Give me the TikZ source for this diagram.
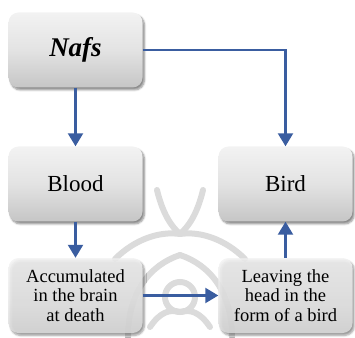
\documentclass[tikz,border=0pt]{standalone}
\usepackage{fontspec}
\setmainfont{Liberation Serif}
\usetikzlibrary{arrows.meta,shadows.blur,positioning}
\definecolor{arrowblue}{HTML}{3A5DA0}
\tikzset{
  box/.style={rounded corners=10pt, minimum width=134pt, minimum height=75pt,
    top color=gray!10, bottom color=gray!45, middle color=gray!22, draw=none,
    blur shadow={shadow xshift=2pt, shadow yshift=-2.5pt, shadow blur steps=6, shadow opacity=45},
    align=center, inner sep=2pt},
  lowbox/.style={box, top color=gray!10, bottom color=gray!28, middle color=gray!16, fill opacity=0.85, text opacity=1},
  conn/.style={draw=arrowblue, line width=2.3pt, -{Triangle[width=15pt,length=13pt]}},
  small/.style={font=\fontsize{18.5}{19.5}\selectfont},
  big/.style={font=\fontsize{23}{24}\selectfont},
  orn/.style={draw=gray!28, line width=6pt, line cap=round}
}
\begin{document}
\begin{tikzpicture}[x=1pt,y=1pt]
\useasboundingbox (0,0) rectangle (355,337);
% faint background ornament
\draw[orn] (157,147) .. controls (163,122) and (172,110) .. (180,103);
\draw[orn] (203,147) .. controls (197,122) and (188,110) .. (180,103);
\draw[orn] (180,103) .. controls (160,106) and (135,98) .. (115,78);
\draw[orn] (180,103) .. controls (200,106) and (225,98) .. (245,78);
\draw[orn] (128,0) .. controls (128,45) and (150,72) .. (180,82);
\draw[orn] (232,0) .. controls (232,45) and (210,72) .. (180,82);
\draw[orn] (180,40) circle[radius=15];
\draw[orn] (150,10) .. controls (160,25) and (170,28) .. (180,25);
\draw[orn] (210,10) .. controls (200,25) and (190,28) .. (180,25);
% boxes
\node[box, font=\fontsize{27}{28}\selectfont\bfseries\itshape] (nafs) at (75.5,287) {Nafs};
\node[box, big] (blood) at (75.5,153) {Blood};
\node[box, big] (bird) at (285.5,153) {Bird};
\node[lowbox, small] (acc) at (75.5,41.5) {Accumulated\\in the brain\\at death};
\node[lowbox, small] (leave) at (285.5,41.5) {Leaving the\\head in the\\form of a bird};
\draw[conn] (nafs.south) -- (blood.north);
\draw[conn] (nafs.east) -| (bird.north);
\draw[conn] (blood.south) -- (acc.north);
\draw[conn] (acc.east) -- (leave.west);
\draw[conn] (leave.north) -- (bird.south);
\end{tikzpicture}
\end{document}
